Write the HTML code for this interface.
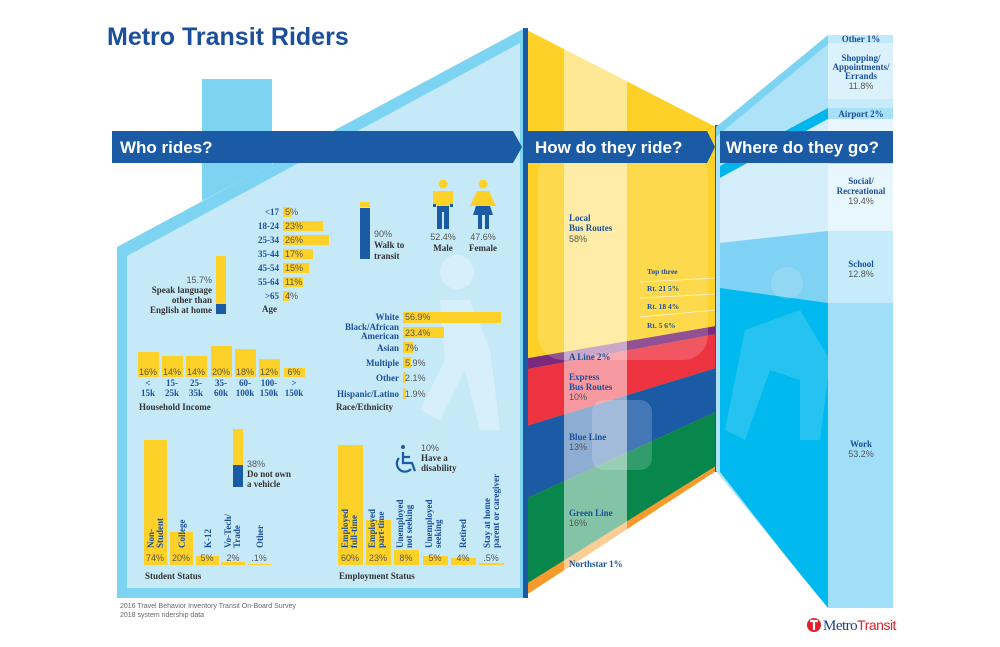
<!DOCTYPE html>
<html><head><meta charset="utf-8"><style>
html,body{margin:0;padding:0;background:#fff;}
svg{display:block;}
.t{font-family:"Liberation Serif",serif;font-weight:bold;fill:#1b4f9c;font-size:9px;}
.p{font-family:"Liberation Sans",sans-serif;fill:#555;font-size:9px;}
.b{font-family:"Liberation Sans",sans-serif;font-weight:bold;fill:#fff;font-size:17px;}
.k{font-family:"Liberation Serif",serif;font-weight:bold;fill:#333;font-size:9px;}
</style></head><body>
<svg width="1000" height="647" viewBox="0 0 1000 647" xmlns="http://www.w3.org/2000/svg">
<defs>
<clipPath id="mid"><polygon points="523,28 716,127 716,471 523,597"/></clipPath>
<clipPath id="rp"><polygon points="716,127 828,35 893,35 893,608 828,608 716,471"/></clipPath>
</defs>
<text x="107" y="45" font-family="Liberation Sans,sans-serif" font-weight="bold" font-size="25" fill="#1b4f9c">Metro Transit Riders</text>
<polygon points="202,79 272,79 272,164 202,201" fill="#7dd3f2"/>
<polygon points="117,247 523,29 523,598 117,598" fill="#7dd3f2"/>
<polygon points="127,256 520,43 520,588 127,588" fill="#c6e9f8"/>
<g fill="#fff" opacity="0.3">
<circle cx="457" cy="272" r="17"/>
<path d="M440 300 L470 300 L490 350 L500 430 L480 430 L465 370 L440 420 L420 410 L445 360 Z"/>
</g>
<g clip-path="url(#mid)">
<rect x="523" y="20" width="200" height="600" fill="#fdd128"/>
<polygon points="523,359 716,326 716,334 523,370" fill="#7a2a7e"/>
<polygon points="523,370 716,334 716,368 523,427" fill="#ee3340"/>
<polygon points="523,427 716,368 716,412 523,500" fill="#1b5aa5"/>
<polygon points="523,500 716,412 716,466 523,586" fill="#07874c"/>
<polygon points="523,586 716,466 716,480 523,600" fill="#f79a2e"/>
<rect x="538" y="150" width="170" height="210" rx="25" fill="#fff" opacity="0.18"/>
<rect x="592" y="400" width="60" height="70" rx="12" fill="#fff" opacity="0.18"/>
<rect x="564" y="20" width="63" height="600" fill="#fff" opacity="0.5"/>
<line x1="640" y1="282" x2="716" y2="278" stroke="#fff" stroke-width="0.7" opacity="0.8"/>
<line x1="640" y1="298" x2="716" y2="294" stroke="#fff" stroke-width="0.7" opacity="0.8"/>
<line x1="640" y1="317" x2="716" y2="310" stroke="#fff" stroke-width="0.7" opacity="0.8"/>
</g>
<rect x="523" y="28" width="5" height="570" fill="#1b5aa5"/>
<rect x="715" y="125" width="5" height="347" fill="#1b5aa5"/>
<g clip-path="url(#rp)">
<rect x="716" y="30" width="180" height="600" fill="#aee2f8"/>
<polygon points="716,127 828,35 828,44 716,137" fill="#7dd3f2"/>
<polygon points="720,166 828,108 828,119 720,178" fill="#00b5ec"/>
<polygon points="720,178 828,119 828,231 720,243" fill="#d4eefb"/>
<polygon points="720,243 828,231 828,303 720,288" fill="#7fd2f4"/>
<polygon points="720,288 828,303 828,610 720,472" fill="#00b9ef"/>
<g fill="#fff" opacity="0.15"><circle cx="787" cy="283" r="16"/><path d="M745 330 L800 310 L830 360 L820 440 L800 440 L800 380 L770 370 L745 440 L725 430 Z"/></g>
<rect x="828" y="35" width="65" height="8" fill="#c0e9fa"/>
<rect x="828" y="43" width="65" height="56" fill="#dbf2fc"/>
<rect x="828" y="99" width="65" height="9" fill="#c6ebfa"/>
<rect x="828" y="108" width="65" height="11" fill="#a8e1f7"/>
<rect x="828" y="119" width="65" height="12" fill="#e8f6fd"/>
<rect x="828" y="164" width="65" height="67" fill="#e8f6fd"/>
<rect x="828" y="231" width="65" height="72" fill="#c6ebfa"/>
<rect x="828" y="303" width="65" height="305" fill="#a1def7"/>
</g>
<polygon points="112,131 513,131 522,147 513,163 112,163" fill="#1b5aa5"/>
<polygon points="528,131 707,131 715,147 707,163 528,163" fill="#1b5aa5"/>
<polygon points="720,131 893,131 893,163 720,163" fill="#1b5aa5"/>
<text class="b" x="120" y="153">Who rides?</text>
<text class="b" x="535" y="153">How do they ride?</text>
<text class="b" x="726" y="153">Where do they go?</text>
<g>
<rect x="283" y="207" width="8" height="10" fill="#fdd128"/>
<rect x="283" y="221" width="40" height="10" fill="#fdd128"/>
<rect x="283" y="235" width="46" height="10" fill="#fdd128"/>
<rect x="283" y="249" width="30" height="10" fill="#fdd128"/>
<rect x="283" y="263" width="26" height="10" fill="#fdd128"/>
<rect x="283" y="277" width="20" height="10" fill="#fdd128"/>
<rect x="283" y="291" width="7" height="10" fill="#fdd128"/>
<g class="t" text-anchor="end"><text x="279" y="215">&lt;17</text><text x="279" y="229">18-24</text><text x="279" y="243">25-34</text><text x="279" y="257">35-44</text><text x="279" y="271">45-54</text><text x="279" y="285">55-64</text><text x="279" y="299">&gt;65</text></g>
<g class="p"><text x="285" y="215">5%</text><text x="285" y="229">23%</text><text x="285" y="243">26%</text><text x="285" y="257">17%</text><text x="285" y="271">15%</text><text x="285" y="285">11%</text><text x="285" y="299">4%</text></g>
<text class="k" x="262" y="312">Age</text>
</g>
<rect x="216" y="256" width="10" height="48" fill="#fdd128"/>
<rect x="216" y="304" width="10" height="10" fill="#1b5aa5"/>
<text class="p" x="212" y="283" text-anchor="end">15.7%</text>
<g class="k" text-anchor="end"><text x="212" y="293">Speak language</text><text x="212" y="303">other than</text><text x="212" y="313">English at home</text></g>
<rect x="360" y="202" width="10" height="5" fill="#fdd128"/>
<rect x="360" y="208" width="10" height="51" fill="#1b5aa5"/>
<text class="p" x="374" y="237">90%</text>
<g class="k"><text x="374" y="248">Walk to</text><text x="374" y="259">transit</text></g>
<g>
<circle cx="443" cy="184" r="4.5" fill="#fdd128"/>
<rect x="436" y="191" width="14" height="15" rx="2" fill="#fdd128"/>
<rect x="433" y="191" width="3" height="14" fill="#fdd128"/><rect x="450" y="191" width="3" height="14" fill="#fdd128"/>
<rect x="433" y="204" width="3" height="3" fill="#1b5aa5"/><rect x="450" y="204" width="3" height="3" fill="#1b5aa5"/>
<rect x="437" y="206" width="12" height="6" fill="#1b5aa5"/>
<rect x="437" y="211" width="5" height="18" fill="#1b5aa5"/><rect x="444" y="211" width="5" height="18" fill="#1b5aa5"/>
<circle cx="483" cy="184" r="4.5" fill="#fdd128"/>
<polygon points="477,191 489,191 496,206 470,206" fill="#fdd128"/>
<polygon points="476,206 490,206 493,215 473,215" fill="#1b5aa5"/>
<rect x="478" y="214" width="4" height="15" fill="#1b5aa5"/><rect x="485" y="214" width="4" height="15" fill="#1b5aa5"/>
<text class="p" x="443" y="240" text-anchor="middle">52.4%</text>
<text class="p" x="483" y="240" text-anchor="middle">47.6%</text>
<text class="k" x="443" y="251" text-anchor="middle">Male</text>
<text class="k" x="483" y="251" text-anchor="middle">Female</text>
</g>
<g fill="#fdd128">
<rect x="403" y="312" width="98" height="11"/>
<rect x="403" y="327" width="41" height="11"/>
<rect x="403" y="342" width="10" height="11"/>
<rect x="403" y="357" width="8" height="11"/>
<rect x="403" y="372" width="3" height="11"/>
<rect x="403" y="388" width="3" height="11"/>
</g>
<g class="t" text-anchor="end"><text x="399" y="320">White</text><text x="399" y="330">Black/African</text><text x="399" y="339">American</text><text x="399" y="351">Asian</text><text x="399" y="366">Multiple</text><text x="399" y="381">Other</text><text x="399" y="397">Hispanic/Latino</text></g>
<g class="p"><text x="405" y="320">56.9%</text><text x="405" y="336">23.4%</text><text x="405" y="351">7%</text><text x="405" y="366">5.9%</text><text x="405" y="381">2.1%</text><text x="405" y="397">1.9%</text></g>
<text class="k" x="336" y="410">Race/Ethnicity</text>
<g fill="#fdd128">
<rect x="138" y="352" width="21" height="25"/><rect x="162" y="356" width="21" height="21"/><rect x="186" y="356" width="21" height="21"/><rect x="211" y="346" width="21" height="31"/><rect x="235" y="349" width="21" height="28"/><rect x="259" y="359" width="21" height="18"/><rect x="284" y="368" width="21" height="9"/>
</g>
<g class="p" text-anchor="middle"><text x="148" y="375">16%</text><text x="172" y="375">14%</text><text x="196" y="375">14%</text><text x="221" y="375">20%</text><text x="245" y="375">18%</text><text x="269" y="375">12%</text><text x="294" y="375">6%</text></g>
<g class="t" text-anchor="middle"><text x="148" y="386">&lt;</text><text x="172" y="386">15-</text><text x="196" y="386">25-</text><text x="221" y="386">35-</text><text x="245" y="386">60-</text><text x="269" y="386">100-</text><text x="294" y="386">&gt;</text>
<text x="148" y="396">15k</text><text x="172" y="396">25k</text><text x="196" y="396">35k</text><text x="221" y="396">60k</text><text x="245" y="396">100k</text><text x="269" y="396">150k</text><text x="294" y="396">150k</text></g>
<text class="k" x="139" y="410">Household Income</text>
<rect x="233" y="429" width="10" height="36" fill="#fdd128"/>
<rect x="233" y="465" width="10" height="22" fill="#1b5aa5"/>
<text class="p" x="247" y="467">38%</text>
<g class="k"><text x="247" y="477">Do not own</text><text x="247" y="487">a vehicle</text></g>
<g fill="#fdd128">
<rect x="144" y="440" width="23" height="125"/><rect x="170" y="532" width="23" height="33"/><rect x="196" y="556" width="23" height="9"/><rect x="221" y="562" width="24" height="3"/><rect x="248" y="564" width="23" height="1"/>
</g>
<g class="t">
<text transform="translate(154,548) rotate(-90)">Non-</text><text transform="translate(163,548) rotate(-90)">Student</text>
<text transform="translate(185,548) rotate(-90)">College</text>
<text transform="translate(211,548) rotate(-90)">K-12</text>
<text transform="translate(231,548) rotate(-90)">Vo-Tech/</text><text transform="translate(240,548) rotate(-90)">Trade</text>
<text transform="translate(263,548) rotate(-90)">Other</text>
</g>
<g class="p" text-anchor="middle"><text x="155" y="561">74%</text><text x="181" y="561">20%</text><text x="207" y="561">5%</text><text x="233" y="561">2%</text><text x="259" y="561">.1%</text></g>
<text class="k" x="145" y="579">Student Status</text>
<g fill="#fdd128">
<rect x="338" y="445" width="25" height="120"/><rect x="366" y="520" width="25" height="45"/><rect x="394" y="550" width="25" height="15"/><rect x="423" y="556" width="25" height="9"/><rect x="451" y="558" width="25" height="7"/><rect x="479" y="563" width="25" height="2"/>
</g>
<g class="t">
<text transform="translate(348,548) rotate(-90)">Employed</text><text transform="translate(357,548) rotate(-90)">full-time</text>
<text transform="translate(375,548) rotate(-90)">Employed</text><text transform="translate(384,548) rotate(-90)">part-time</text>
<text transform="translate(403,548) rotate(-90)">Unemployed</text><text transform="translate(412,548) rotate(-90)">not seeking</text>
<text transform="translate(432,548) rotate(-90)">Unemployed</text><text transform="translate(441,548) rotate(-90)">seeking</text>
<text transform="translate(466,548) rotate(-90)">Retired</text>
<text transform="translate(490,548) rotate(-90)">Stay at home</text><text transform="translate(499,548) rotate(-90)">parent or caregiver</text>
</g>
<g class="p" text-anchor="middle"><text x="350" y="561">60%</text><text x="378" y="561">23%</text><text x="406" y="561">8%</text><text x="435" y="561">5%</text><text x="463" y="561">4%</text><text x="491" y="561">.5%</text></g>
<text class="k" x="339" y="579">Employment Status</text>
<g fill="none" stroke="#1b5aa5" stroke-width="2.2">
<circle cx="403" cy="447" r="2" fill="#1b5aa5" stroke="none"/>
<path d="M403 452 L403 463 L412 463 L415 471"/>
<path d="M399 458 A8 8 0 1 0 411 469"/>
<path d="M403 457 L410 457"/>
</g>
<text class="p" x="421" y="451">10%</text>
<g class="k"><text x="421" y="461">Have a</text><text x="421" y="471">disability</text></g>
<g class="t">
<text x="569" y="221">Local</text><text x="569" y="231">Bus Routes</text>
<text x="569" y="360">A Line 2%</text>
<text x="569" y="380">Express</text><text x="569" y="390">Bus Routes</text>
<text x="569" y="440">Blue Line</text>
<text x="569" y="516">Green Line</text>
<text x="569" y="567">Northstar 1%</text>
</g>
<g class="p"><text x="569" y="242">58%</text><text x="569" y="400">10%</text><text x="569" y="450">13%</text><text x="569" y="526">16%</text></g>
<g class="t" style="font-size:7.5px"><text x="647" y="274">Top three</text><text x="647" y="291">Rt. 21  5%</text><text x="647" y="309">Rt. 18  4%</text><text x="647" y="328">Rt. 5  6%</text></g>
<g class="t" text-anchor="middle">
<text x="861" y="42">Other 1%</text>
<text x="861" y="61">Shopping/</text><text x="861" y="70">Appointments/</text><text x="861" y="79">Errands</text>
<text x="861" y="117">Airport 2%</text>
<text x="861" y="184">Social/</text><text x="861" y="194">Recreational</text>
<text x="861" y="267">School</text>
<text x="861" y="447">Work</text>
</g>
<g class="p" text-anchor="middle"><text x="861" y="89">11.8%</text><text x="861" y="204">19.4%</text><text x="861" y="277">12.8%</text><text x="861" y="457">53.2%</text></g>
<g font-family="Liberation Sans,sans-serif" font-size="7" fill="#666"><text x="120" y="608">2016 Travel Behavior Inventory Transit On-Board Survey</text><text x="120" y="617">2018 system ridership data</text></g>
<circle cx="814" cy="625" r="7" fill="#e0202b"/>
<path d="M810 621 H818 M814 621 V630" stroke="#fff" stroke-width="2.2"/>
<text x="823" y="630" font-family="Liberation Serif,serif" font-size="15" fill="#1b3f8c" letter-spacing="-0.5">Metro<tspan font-family="Liberation Sans,sans-serif" fill="#e0202b" font-size="14">Transit</tspan></text>
</svg>
</body></html>
